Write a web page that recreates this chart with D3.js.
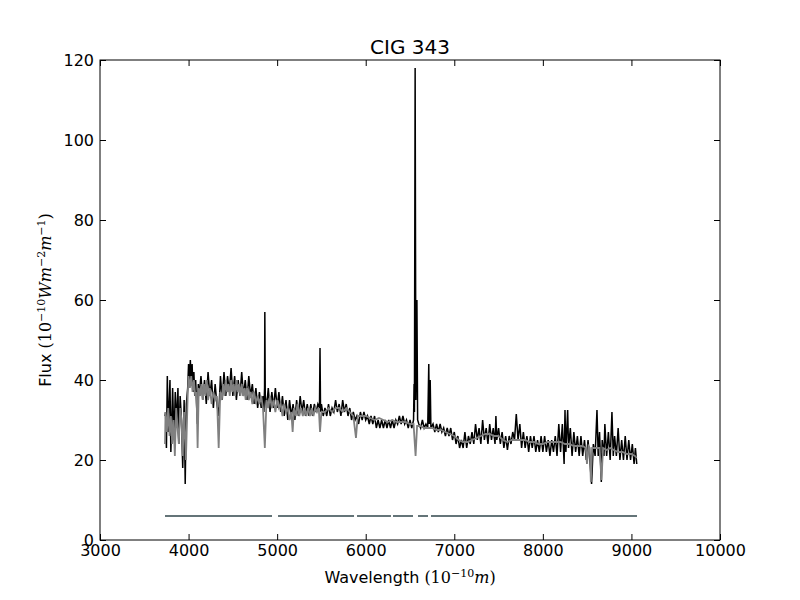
<!DOCTYPE html>
<html>
<head>
<meta charset="utf-8">
<script src="https://cdn.jsdelivr.net/npm/d3@7"></script>
<style>
  body { margin: 0; background: #fff; }
  text { font-family: "DejaVu Sans", sans-serif; }
</style>
</head>
<body>
<svg id="chart" width="800" height="600"></svg>
<script>
// observed spectrum (black), [wavelength, flux]
const observed = [
  [3734,31],[3740,32],[3750,23],[3760,41],[3770,27],[3790,40],[3800,22],[3820,38],[3835,25],[3850,37],
  [3865,29],[3880,38],[3890,24],[3905,36],[3920,30],[3934,18],[3950,35],[3962,14],[3975,34],[3990,38],
  [4000,44],[4010,40],[4020,45],[4030,39],[4040,44],[4050,37],[4060,42],[4070,36],[4080,40],[4090,34],
  [4100,29],[4110,39],[4120,36],[4140,41],[4160,35],[4180,40],[4200,34],[4220,42],[4240,36],[4260,40],
  [4280,33],[4300,39],[4320,34],[4340,31],[4360,41],[4380,35],[4400,42],[4420,36],[4440,41],[4460,37],
  [4480,43],[4500,36],[4520,41],[4540,35],[4560,40],[4580,36],[4600,42],[4620,36],[4640,40],[4660,35],
  [4680,41],[4700,36],[4720,39],[4740,34],[4760,38],[4780,33],[4800,37],[4820,33],[4840,36],[4850,32],
  [4858,38],[4861,57],[4866,36],[4880,33],[4900,38],[4920,32],[4940,37],[4960,33],[4980,38],[5000,33],
  [5020,37],[5040,32],[5060,36],[5080,31],[5100,35],[5120,30],[5140,35],[5160,31],[5180,34],[5200,30],
  [5220,35],[5240,31],[5260,36],[5280,32],[5300,35],[5320,31],[5340,34],[5360,31],[5380,34],[5400,31],
  [5420,34],[5440,32],[5460,34],[5478,33],[5484,48],[5490,32],[5500,34],[5520,31],[5540,33],[5560,31],
  [5580,34],[5600,31],[5620,33],[5640,32],[5660,35],[5680,32],[5700,34],[5720,31],[5740,35],[5760,32],
  [5780,34],[5800,31],[5820,33],[5840,30],[5860,32],[5880,30],[5900,31],[5920,29],[5940,32],[5960,30],
  [5980,32],[6000,30],[6020,31],[6040,29],[6060,31],[6080,29],[6100,31],[6120,28],[6140,30],[6160,28],
  [6180,30],[6200,28],[6220,30],[6240,28],[6260,30],[6280,28],[6300,30],[6320,28],[6340,30],[6360,29],
  [6380,31],[6400,29],[6420,31],[6440,29],[6460,30],[6480,28],[6500,30],[6520,28],[6540,30],[6546,39],
  [6550,32],[6558,118],[6566,35],[6578,60],[6586,30],[6600,29],[6620,28],[6640,30],[6660,28],[6680,29],
  [6700,28],[6712,44],[6718,29],[6728,40],[6736,28],[6760,29],[6780,27],[6800,29],[6820,27],[6840,29],
  [6860,27],[6880,28],[6900,26],[6920,28],[6940,26],[6960,28],[6980,25],[7000,27],[7020,24],[7040,26],
  [7060,23],[7080,25],[7100,23],[7120,27],[7140,23],[7160,26],[7180,24],[7200,27],[7220,24],[7240,29],
  [7260,25],[7280,28],[7300,24],[7320,30],[7340,25],[7360,28],[7380,24],[7400,29],[7420,25],[7440,28],
  [7460,24],[7470,31],[7480,25],[7500,28],[7520,24],[7540,27],[7560,23],[7580,26],[7600,22.5],[7620,26],
  [7640,24],[7660,27],[7680,25],[7700,31.5],[7720,25],[7740,29],[7760,23],[7780,27],[7800,23],[7820,26],
  [7840,22],[7860,26],[7880,23],[7900,26],[7920,22],[7940,25],[7960,22],[7980,26],[8000,22],[8020,26],
  [8040,22],[8060,25],[8080,21],[8100,25],[8120,22],[8140,26],[8160,21],[8180,29],[8200,22],[8220,29],
  [8240,19],[8250,32.5],[8260,22],[8280,32.5],[8290,23],[8310,28],[8330,21],[8350,27],[8370,22],[8390,26],
  [8410,21],[8430,26],[8450,21],[8470,25],[8490,20],[8510,25],[8530,20],[8550,14],[8570,24],[8590,21],
  [8611,32.5],[8625,21],[8640,27],[8660,14.5],[8670,25],[8690,21],[8700,29],[8720,21],[8740,27],[8760,20],
  [8780,32],[8795,21],[8810,26],[8830,21],[8850,28],[8870,20],[8890,25],[8910,20],[8930,26],[8950,20],
  [8970,25],[8990,20],[9010,24],[9030,19],[9045,23],[9060,19]
];

// synthetic fit (grey), [wavelength, flux]
const model = [
  [3734,24],[3740,32],[3755,27],[3770,33],[3785,26],[3800,31],[3815,24],[3830,30],[3845,21],[3860,33],
  [3875,28],[3890,24],[3905,33],[3920,30],[3934,21],[3950,32],[3970,20],[3990,36],[4000,41],[4015,38],
  [4030,41],[4045,37],[4060,40],[4075,36],[4090,37],[4102,23],[4115,38],[4130,36],[4145,39],[4160,35],
  [4175,39],[4190,36],[4205,40],[4220,35],[4240,38],[4260,34],[4280,37],[4300,35],[4320,36],[4340,23],
  [4358,37],[4375,35],[4390,39],[4405,36],[4420,40],[4435,37],[4450,39],[4465,36],[4480,40],[4495,37],
  [4510,39],[4525,36],[4540,40],[4555,37],[4570,39],[4585,36],[4600,39],[4615,36],[4630,38],[4645,35],
  [4660,38],[4680,35],[4700,37],[4720,34],[4740,37],[4760,34],[4780,36],[4800,34],[4820,36],[4840,33],
  [4861,23],[4880,35],[4900,33],[4920,36],[4940,33],[4960,35],[4980,32],[5000,35],[5020,33],[5040,34],
  [5060,31],[5080,34],[5100,32],[5120,33],[5140,30],[5160,32],[5175,27],[5190,33],[5210,31],[5230,34],
  [5250,31],[5270,33],[5290,31],[5310,33],[5330,31],[5350,33],[5370,31],[5390,33],[5410,31],[5430,33],
  [5450,32],[5470,33],[5484,27],[5500,32],[5540,32],[5580,33],[5620,32],[5660,33],[5700,33],[5740,32],
  [5780,33],[5820,32],[5860,31],[5890,25.5],[5910,31],[5950,31],[6000,31],[6050,30.5],[6100,30],
  [6150,30.5],[6200,30],[6250,29.5],[6300,30],[6350,29.5],[6400,29.5],[6450,29.5],[6500,29],[6540,29],
  [6563,21],[6580,28.5],[6620,28.5],[6660,28],[6700,28],[6750,28],[6800,27.5],[6850,27.5],[6900,27],
  [6950,26.5],[7000,26],[7050,25],[7100,24.5],[7150,24.5],[7200,25],[7250,25.5],[7300,26],[7350,26.5],
  [7400,26.5],[7450,26],[7500,26],[7550,25],[7600,24.5],[7650,25],[7700,25],[7750,25],[7800,25],
  [7850,24.5],[7900,24.5],[7950,24],[8000,24],[8050,24.5],[8100,24.5],[8150,24.5],[8200,24.5],[8250,24],
  [8300,24],[8350,23.5],[8400,23.5],[8450,23.5],[8485,23],[8498,19],[8515,23.5],[8530,23],[8542,14.5],
  [8556,23],[8600,23],[8640,23],[8662,15],[8680,23],[8720,22.5],[8760,23],[8800,22.5],[8850,22],
  [8900,22],[8950,21.5],[9000,21.5],[9040,21],[9060,20.5]
];

// masked wavelength ranges drawn as a bar at flux 6
const maskRanges = [[3734,4942],[5010,5868],[5902,6285],[6308,6534],[6590,6703],[6737,9063]];
const maskLevel = 6;

const xTicks = [3000,4000,5000,6000,7000,8000,9000,10000];
const yTicks = [0,20,40,60,80,100,120];

const margin = {left: 100, top: 60, right: 80, bottom: 60};
const W = 800, H = 600;
const iw = W - margin.left - margin.right, ih = H - margin.top - margin.bottom;

const svg = d3.select("#chart");
const x = d3.scaleLinear().domain([3000, 10000]).range([margin.left, margin.left + iw]);
const y = d3.scaleLinear().domain([0, 120]).range([margin.top + ih, margin.top]);

svg.append("rect").attr("width", W).attr("height", H).attr("fill", "#fff");

const plot = svg.append("g");
plot.append("clipPath").attr("id", "clip").append("rect")
  .attr("x", margin.left).attr("y", margin.top).attr("width", iw).attr("height", ih);

const line = d3.line().x(d => x(d[0])).y(d => y(d[1]));

plot.append("path").datum(observed)
  .attr("clip-path", "url(#clip)")
  .attr("fill", "none").attr("stroke", "#000").attr("stroke-width", 1.5)
  .attr("d", line);

plot.append("path").datum(model)
  .attr("clip-path", "url(#clip)")
  .attr("fill", "none").attr("stroke", "#808080").attr("stroke-width", 1.8)
  .attr("d", line);

plot.selectAll(".mask").data(maskRanges).enter().append("line")
  .attr("class", "mask")
  .attr("x1", d => x(d[0])).attr("x2", d => x(d[1]))
  .attr("y1", y(maskLevel)).attr("y2", y(maskLevel))
  .attr("stroke", "#647478").attr("stroke-width", 2);

// axes, matplotlib classic: ticks inside on all four sides
const fmt = d3.format("d");
const styleAxis = g => {
  g.select(".domain").remove();
  g.selectAll(".tick line").attr("stroke", "#000").attr("stroke-width", 1);
  g.selectAll(".tick text").attr("fill", "#000").style("font-size", "16px")
    .style("font-family", "'DejaVu Sans', sans-serif");
};

svg.append("g").attr("transform", `translate(0,${margin.top + ih})`)
  .call(d3.axisBottom(x).tickValues(xTicks).tickFormat(fmt).tickSizeInner(-6).tickSizeOuter(0).tickPadding(5))
  .call(styleAxis);
svg.append("g").attr("transform", `translate(0,${margin.top})`)
  .call(d3.axisTop(x).tickValues(xTicks).tickFormat("").tickSizeInner(-6).tickSizeOuter(0))
  .call(styleAxis);
svg.append("g").attr("transform", `translate(${margin.left},0)`)
  .call(d3.axisLeft(y).tickValues(yTicks).tickFormat(fmt).tickSizeInner(-6).tickSizeOuter(0).tickPadding(6))
  .call(styleAxis);
svg.append("g").attr("transform", `translate(${margin.left + iw},0)`)
  .call(d3.axisRight(y).tickValues(yTicks).tickFormat("").tickSizeInner(-6).tickSizeOuter(0))
  .call(styleAxis);

svg.append("rect")
  .attr("x", margin.left).attr("y", margin.top).attr("width", iw).attr("height", ih)
  .attr("fill", "none").attr("stroke", "#000").attr("stroke-width", 1);

// title
svg.append("text").attr("x", margin.left + iw / 2).attr("y", 54)
  .attr("text-anchor", "middle").style("font-size", "20px").text("CIG 343");

// label with math-style parts: [text, isMath, isSuper, isItalic]
const addLabel = (t, parts) => {
  parts.forEach(p => {
    const ts = t.append("tspan").text(p[0]);
    if (p[1]) ts.style("font-family", "'DejaVu Serif', serif");
    if (p[3]) ts.style("font-style", "italic");
    if (p[2]) ts.attr("baseline-shift", "super").style("font-size", "11px");
  });
};

const xl = svg.append("text").attr("x", margin.left + iw / 2).attr("y", 583)
  .attr("text-anchor", "middle").style("font-size", "16px");
addLabel(xl, [["Wavelength ", 0, 0, 0], ["(10", 1, 0, 0], ["−10", 1, 1, 0], ["m", 1, 0, 1], [")", 1, 0, 0]]);

const yl = svg.append("text").attr("transform", `translate(51,${margin.top + ih / 2}) rotate(-90)`)
  .attr("text-anchor", "middle").style("font-size", "16px");
addLabel(yl, [["Flux ", 0, 0, 0], ["(10", 1, 0, 0], ["−10", 1, 1, 0], ["Wm", 1, 0, 1], ["−2", 1, 1, 0],
  ["m", 1, 0, 1], ["−1", 1, 1, 0], [")", 1, 0, 0]]);
</script>
</body>
</html>
